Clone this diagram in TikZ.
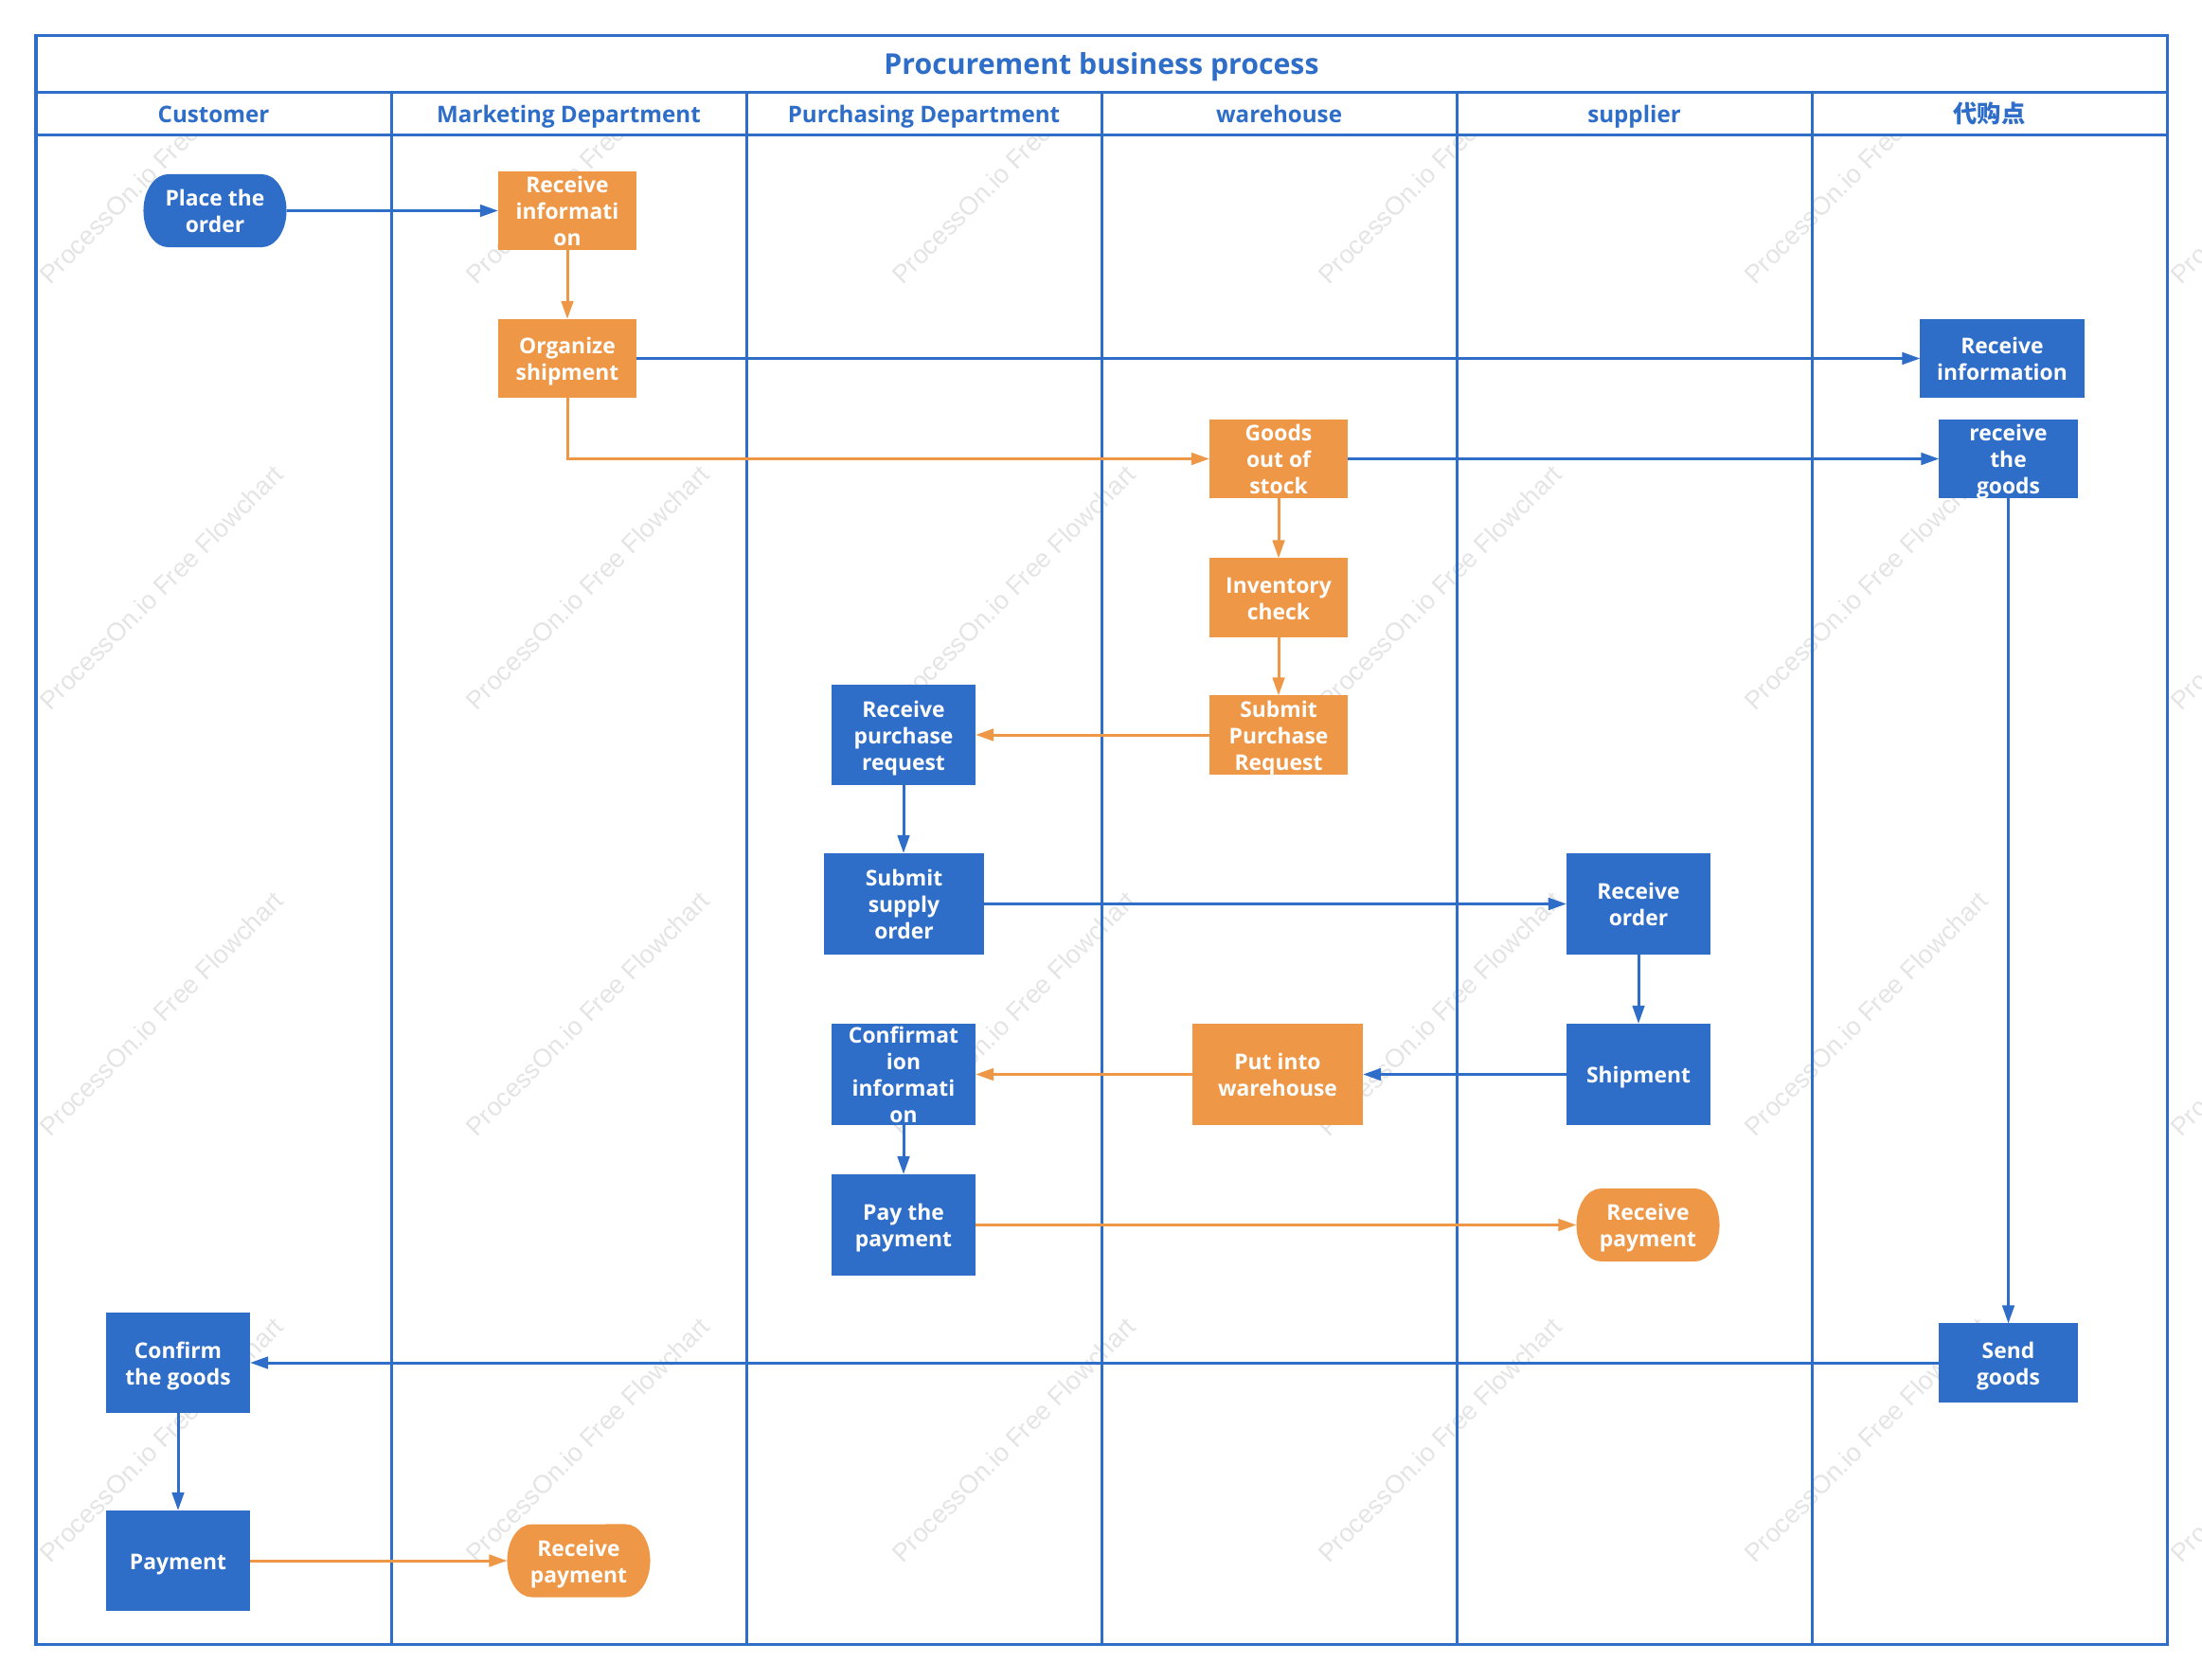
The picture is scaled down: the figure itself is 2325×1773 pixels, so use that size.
\documentclass[tikz,border=0pt]{standalone}
\usepackage{fontspec}
\setmainfont{Open Sans}
\newfontfamily\cjkfont{Noto Sans CJK SC}
\newfontfamily\markfont{Liberation Sans}
\usetikzlibrary{arrows.meta}
\definecolor{flowblue}{RGB}{46,109,200}
\definecolor{floworange}{RGB}{238,151,71}
\definecolor{markgray}{RGB}{228,228,228}
\newcommand{\flowcell}[1]{\rule{0pt}{7.2pt}#1\rule[-1.9pt]{0pt}{1.9pt}}

\begin{document}
\begin{tikzpicture}[x=0.01cm,y=0.01cm]
	\tikzstyle{every node}+=[inner sep=0pt,outer sep=0pt]
	\tikzset{
		boxsize/.style 2 args={minimum width=#1cm,minimum height=#2cm},
		flowtext/.style={align=center,inner ysep=-1.5pt,text=white,font=\fontsize{6.5}{7.95}\selectfont\bfseries},
		bluebox/.style={flowtext,fill=flowblue},
		orangebox/.style={flowtext,fill=floworange},
		endbox/.style={flowtext,boxsize={1.51}{0.77},path picture={
			\fill [#1] ([xshift=-.26cm]path picture bounding box.north east)
				arc [start angle=90,end angle=-90,x radius=.26cm,y radius=.385cm]
				-- ([xshift=.26cm]path picture bounding box.south west)
				arc [start angle=270,end angle=90,x radius=.26cm,y radius=.385cm] -- cycle;}},
		blueline/.style={flowblue,line width=0.03cm,-{Triangle[length=.19cm,width=.125cm]}},
		orangeline/.style={floworange,line width=0.03cm,-{Triangle[length=.19cm,width=.125cm]}},
		swimline/.style={flowblue,line width=0.03cm},
		watermark/.style={anchor=base west,rotate=45,text=markgray,font=\markfont\fontsize{7.7}{10}\selectfont},
		headtext/.style={text=flowblue,text height=5.4pt,text depth=1.6pt,font=\fontsize{6.87}{9}\selectfont\bfseries}
	}
	\useasboundingbox (0,0) rectangle (2325,-1773);
	\foreach \i in {0,...,5}
		\foreach \j in {0,...,3}
			\node [watermark] (mark\i\j) at ({53+450*\i},{-301-450*\j}) {ProcessOn.io Free Flowchart};
	\fill [white] (38,-38) rectangle (2288,-143);
	\draw [swimline] (38,-38) rectangle (2288,-1736);
	\draw [swimline] (38,-98) -- (2288,-98);
	\draw [swimline] (38,-143) -- (2288,-143);
	\foreach \x in {413,788,1163,1538,1913}
		\draw [swimline] (\x,-98) -- (\x,-1736);
	\draw (1163,-70) node [headtext,text height=7pt,text depth=2pt,font=\fontsize{8.6}{11}\selectfont\bfseries] (title) {Procurement business process};
	\draw (225.5,-123) node [headtext] (head1) {Customer};
	\draw (600.5,-123) node [headtext] (head2) {Marketing Department};
	\draw (975.5,-123) node [headtext] (head3) {Purchasing Department};
	\draw (1350.5,-123) node [headtext] (head4) {warehouse};
	\draw (1725.5,-123) node [headtext] (head5) {supplier};
	\draw (2100.5,-123) node [headtext,font=\cjkfont\fontsize{7.2}{9}\selectfont\bfseries] (head6) {代购点};

	\draw (227,-222.5) node [endbox=flowblue] (place) {\flowcell{Place the\\order}};
	\draw (599,-222.5) node [orangebox,boxsize={1.46}{0.83}] (recinfo) {\flowcell{Receive\\informati\\on}};
	\draw (599,-378.5) node [orangebox,boxsize={1.46}{0.83}] (organize) {\flowcell{Organize\\shipment}};
	\draw (2114,-378.5) node [bluebox,boxsize={1.73}{0.83}] (recinfob) {\flowcell{Receive\\information}};
	\draw (1350,-484.5) node [orangebox,boxsize={1.46}{0.83}] (goodsout) {\flowcell{Goods\\out of\\stock}};
	\draw (2120.5,-484.5) node [bluebox,boxsize={1.46}{0.83}] (recgoods) {\flowcell{receive\\the\\goods}};
	\draw (1350,-631) node [orangebox,boxsize={1.46}{0.83}] (inventory) {\flowcell{Inventory\\check}};
	\draw (1350,-776) node [orangebox,boxsize={1.46}{0.83}] (submitreq) {\flowcell{Submit\\Purchase\\Request}};
	\draw (954,-776) node [bluebox,boxsize={1.52}{1.06}] (recreq) {\flowcell{Receive\\purchase\\request}};
	\draw (954.5,-954.5) node [bluebox,boxsize={1.69}{1.07}] (supply) {\flowcell{Submit\\supply\\order}};
	\draw (1730,-954.5) node [bluebox,boxsize={1.52}{1.07}] (recorder) {\flowcell{Receive\\order}};
	\draw (1730,-1134.5) node [bluebox,boxsize={1.52}{1.07}] (shipment) {\flowcell{Shipment}};
	\draw (1349,-1134.5) node [orangebox,boxsize={1.80}{1.07}] (putinto) {\flowcell{Put into\\warehouse}};
	\draw (954,-1134.5) node [bluebox,boxsize={1.52}{1.07}] (confirm) {\flowcell{Confirmat\\ion\\informati\\on}};
	\draw (954,-1293.5) node [bluebox,boxsize={1.52}{1.07}] (pay) {\flowcell{Pay the\\payment}};
	\draw (1740,-1293.5) node [endbox=floworange] (recpaya) {\flowcell{Receive\\payment}};
	\draw (2120.5,-1439) node [bluebox,boxsize={1.46}{0.83}] (send) {\flowcell{Send\\goods}};
	\draw (188,-1439) node [bluebox,boxsize={1.52}{1.06}] (confgoods) {\flowcell{Confirm\\the goods}};
	\draw (188,-1648) node [bluebox,boxsize={1.52}{1.06}] (payment) {\flowcell{Payment}};
	\draw (611,-1648) node [endbox=floworange] (recpayb) {\flowcell{Receive\\payment}};

	\draw [blueline] (place.east) -- (recinfo.west);
	\draw [orangeline] (recinfo.south) -- (organize.north);
	\draw [blueline] (organize.east) -- (recinfob.west);
	\draw [orangeline] (organize.south) |- (goodsout.west);
	\draw [blueline] (goodsout.east) -- (recgoods.west);
	\draw [orangeline] (goodsout.south) -- (inventory.north);
	\draw [orangeline] (inventory.south) -- (submitreq.north);
	\draw [orangeline] (submitreq.west) -- (recreq.east);
	\draw [blueline] (recreq.south) -- (recreq.south |- supply.north);
	\draw [blueline] (supply.east) -- (recorder.west);
	\draw [blueline] (recorder.south) -- (shipment.north);
	\draw [blueline] (shipment.west) -- (putinto.east);
	\draw [orangeline] (putinto.west) -- (confirm.east);
	\draw [blueline] (confirm.south) -- (pay.north);
	\draw [orangeline] (pay.east) -- (recpaya.west);
	\draw [blueline] (recgoods.south) -- (send.north);
	\draw [blueline] (send.west) -- (confgoods.east);
	\draw [blueline] (confgoods.south) -- (payment.north);
	\draw [orangeline] (payment.east) -- (recpayb.west);
\end{tikzpicture}
\end{document}
